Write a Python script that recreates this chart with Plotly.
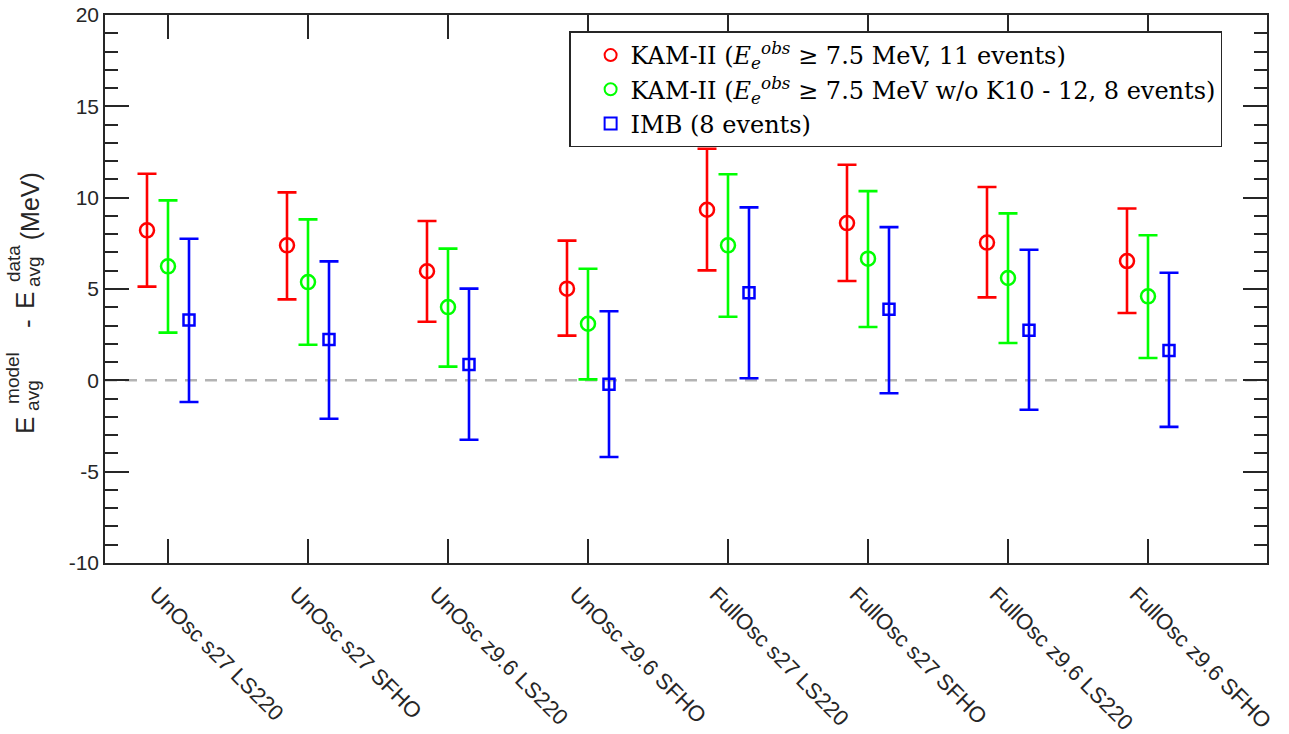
import plotly.graph_objects as go

# ---------------- data ----------------
categories = ["UnOsc s27 LS220", "UnOsc s27 SFHO", "UnOsc z9.6 LS220", "UnOsc z9.6 SFHO",
              "FullOsc s27 LS220", "FullOsc s27 SFHO", "FullOsc z9.6 LS220", "FullOsc z9.6 SFHO"]

kam_mean = [8.21, 7.39, 5.97, 5.02, 9.34, 8.61, 7.54, 6.53]
kam_hi = [11.31, 10.29, 8.72, 7.65, 12.68, 11.80, 10.58, 9.41]
kam_lo = [5.13, 4.43, 3.21, 2.45, 6.02, 5.44, 4.54, 3.69]

kam8_mean = [6.24, 5.38, 4.01, 3.10, 7.39, 6.66, 5.60, 4.60]
kam8_hi = [9.85, 8.81, 7.21, 6.11, 11.28, 10.36, 9.14, 7.94]
kam8_lo = [2.61, 1.95, 0.75, 0.05, 3.48, 2.92, 2.04, 1.22]

imb_mean = [3.30, 2.23, 0.86, -0.22, 4.80, 3.89, 2.74, 1.64]
imb_hi = [7.75, 6.51, 5.02, 3.78, 9.47, 8.39, 7.15, 5.89]
imb_lo = [-1.19, -2.10, -3.25, -4.20, 0.11, -0.71, -1.61, -2.55]

series_names = [
    "KAM-II (<i>E</i><sub><i>e</i></sub><sup><i>obs</i></sup> ≥ 7.5 MeV, 11 events)",
    "KAM-II (<i>E</i><sub><i>e</i></sub><sup><i>obs</i></sup> ≥ 7.5 MeV w/o K10 - 12, 8 events)",
    "IMB (8 events)",
]

y_tick_vals = [-10, -5, 0, 5, 10, 15, 20]
y_tick_text = ["-10", "-5", "0", "5", "10", "15", "20"]

# ---------------- layout geometry ----------------
W, H = 1289, 734
L, R, T, B = 105, 1266.7, 14.5, 563.3
DARK = "#262626"


def px2paper(px, py):
    return (px - L) / (R - L), (B - py) / (B - T)


idx = list(range(1, len(categories) + 1))
offsets = [-0.15, 0.0, 0.15]
colors = ["#ff0000", "#00ff00", "#0000ff"]
symbols = ["circle-open", "circle-open", "square-open"]
sizes = [14, 14, 11]
data_sets = [(kam_mean, kam_hi, kam_lo), (kam8_mean, kam8_hi, kam8_lo), (imb_mean, imb_hi, imb_lo)]

fig = go.Figure()
for k, (m, hi, lo) in enumerate(data_sets):
    fig.add_trace(go.Scatter(
        x=[i + offsets[k] for i in idx],
        y=m,
        mode="markers",
        name=series_names[k],
        marker=dict(symbol=symbols[k], size=sizes[k], color=colors[k],
                    line=dict(width=2.5, color=colors[k])),
        error_y=dict(type="data", symmetric=False,
                     array=[h - v for h, v in zip(hi, m)],
                     arrayminus=[v - l for v, l in zip(m, lo)],
                     color=colors[k], thickness=2.6, width=9.5),
    ))

# zero reference line
fig.add_shape(type="line", xref="paper", x0=0, x1=1, yref="y", y0=0, y1=0,
              line=dict(color="#b3b3b3", width=2.5, dash="12px,8px"), layer="below")

fig.update_layout(
    width=W, height=H,
    margin=dict(l=L, r=W - R, t=T, b=H - B, autoexpand=False),
    paper_bgcolor="white", plot_bgcolor="white",
    font=dict(family="Liberation Sans, Arial, sans-serif", color=DARK, size=20),
    showlegend=True,
    legend=dict(
        x=px2paper(569, 0)[0], y=px2paper(0, 31)[1], xanchor="left", yanchor="top",
        bgcolor="white", bordercolor=DARK, borderwidth=1.5,
        font=dict(family="DejaVu Serif, Liberation Serif, serif", size=24, color="black"),
        tracegroupgap=0, itemsizing="constant", indentation=20,
    ),
    xaxis=dict(
        range=[0.55, 8.85], tickmode="array", tickvals=idx, ticktext=categories,
        tickangle=45, ticks="inside", ticklen=24, tickwidth=1.5, tickcolor=DARK,
        showline=True, linecolor=DARK, linewidth=1.5, mirror="allticks",
        showgrid=False, zeroline=False, tickfont=dict(size=22), automargin=False,
        ticklabelshift=-12, ticklabelstandoff=8,
    ),
    yaxis=dict(
        range=[-10, 20], tickmode="array", tickvals=y_tick_vals, ticktext=y_tick_text,
        ticks="inside", ticklen=24, tickwidth=1.5, tickcolor=DARK,
        showline=True, linecolor=DARK, linewidth=1.5, mirror="allticks",
        showgrid=False, zeroline=False, tickfont=dict(size=21), automargin=False,
        minor=dict(dtick=1, ticks="inside", ticklen=13, tickwidth=1.5, tickcolor=DARK, showgrid=False),
    ),
)

# y-axis label built from pieces (stacked super/subscripts)
label_parts = [
    ("E", 25, 425, 26),
    ("model", 13, 378, 19),
    ("avg", 33, 395, 19),
    ("-", 27, 323, 26),
    ("E", 25, 300, 26),
    ("data", 13, 263, 19),
    ("avg", 33, 271, 19),
    ("(MeV)", 30, 206, 25),
]
for txt, px, py, fs in label_parts:
    xp, yp = px2paper(px, py)
    fig.add_annotation(text=txt, x=xp, y=yp, xref="paper", yref="paper",
                       xanchor="center", yanchor="middle", showarrow=False,
                       textangle=-90, font=dict(size=fs, color=DARK,
                                                family="Liberation Sans, Arial, sans-serif"))

fig.write_html("out.html")
